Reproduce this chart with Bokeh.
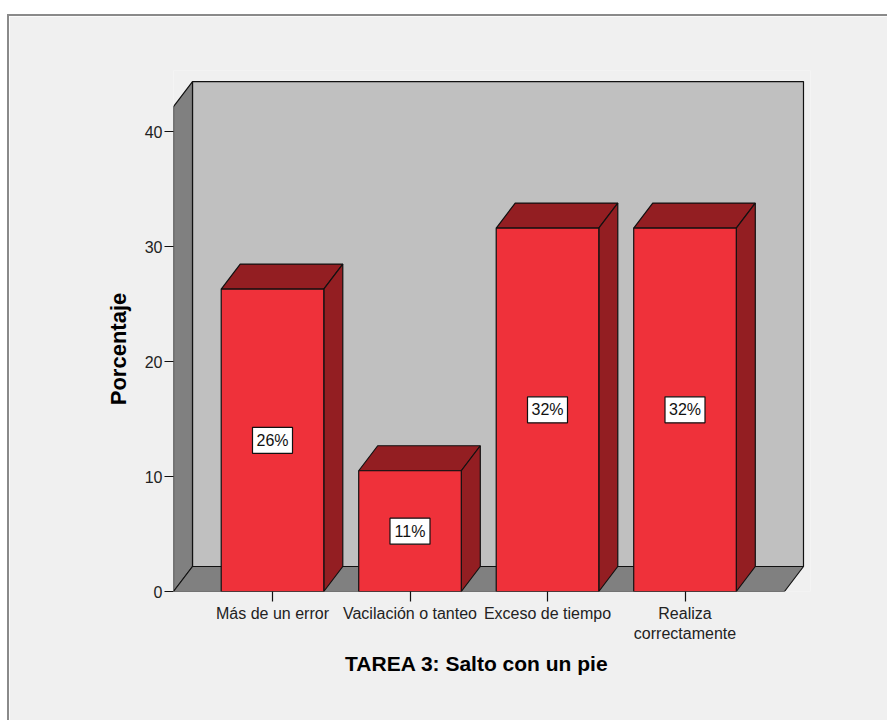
from bokeh.plotting import figure
from bokeh.models import Range1d, FixedTicker, Title, ColumnDataSource
from bokeh.core.properties import value
from bokeh.embed import file_html
from bokeh.resources import INLINE

# ---- data ----
categories = ["Más de un error", "Vacilación o tanteo", "Exceso de tiempo", "Realiza\ncorrectamente"]
percentages = [26.3, 10.5, 31.6, 31.6]
bar_labels = ["26%", "11%", "32%", "32%"]
y_ticks = [0, 10, 20, 30, 40]
x_title = "TAREA 3: Salto con un pie"
y_title = "Porcentaje"

# ---- layout constants (pixels) ----
OX, OY = 9, 16                 # page offset of the canvas
W, H = 889 - OX, 720 - OY + 6
F_LEFT, F_TOP, F_RIGHT, F_BOTTOM = 173 - OX, 70 - OY, 810 - OX, 591 - OY
PX_X = 137.5                   # pixels per category step
PX_Y = 11.5                    # pixels per percent
X0 = -0.72
X_END = X0 + (F_RIGHT - F_LEFT) / PX_X
Y_END = (F_BOTTOM - F_TOP) / PX_Y
DX = 19 / PX_X                 # depth offset
DY = 25 / PX_Y
PLANE_R = 3.7236
PLANE_T = 42.17
BAR_W = 0.746

FONT = "Liberation Sans"
FRONT = "#ef313a"
DARK = "#931e22"
WALL = "#c0c0c0"
SIDE = "#808080"
EDGE = "#111111"

p = figure(width=W, height=H, x_range=Range1d(X0, X_END), y_range=Range1d(0, Y_END),
           output_backend="svg", toolbar_location=None,
           min_border_left=F_LEFT, min_border_right=W - F_RIGHT,
           min_border_top=F_TOP, min_border_bottom=H - F_BOTTOM)
p.margin = (14, 0, 0, 7)
p.styles = {"border-top": "2px solid #8a8a8a", "border-left": "2px solid #8a8a8a"}
p.background_fill_color = "#f0f0f0"
p.border_fill_color = "#f0f0f0"
p.outline_line_color = None
p.grid.visible = False

# walls
p.patch([X0 + DX, PLANE_R + DX, PLANE_R + DX, X0 + DX], [DY, DY, PLANE_T + DY, PLANE_T + DY],
        fill_color=WALL, line_color=EDGE, line_width=1.2)
p.patch([X0, X0 + DX, X0 + DX, X0], [0, DY, PLANE_T + DY, PLANE_T],
        fill_color=SIDE, line_color=EDGE, line_width=1.2)
p.patch([X0, PLANE_R, PLANE_R + DX, X0 + DX], [0, 0, DY, DY],
        fill_color=SIDE, line_color=EDGE, line_width=1.2)

# bars
xs = list(range(len(categories)))
for i, v in zip(xs, percentages):
    l, r = i - BAR_W / 2, i + BAR_W / 2
    p.patch([l, r, r + DX, l + DX], [v, v, v + DY, v + DY], fill_color=DARK, line_color=EDGE, line_width=1.2)
    p.patch([r, r + DX, r + DX, r], [0, DY, v + DY, v], fill_color=DARK, line_color=EDGE, line_width=1.2)
    p.patch([l, r, r, l], [0, 0, v, v], fill_color=FRONT, line_color=EDGE, line_width=1.2)

src = ColumnDataSource(dict(x=xs, y=[v / 2 for v in percentages], t=bar_labels))
p.rect(x="x", y="y", width=40, height=26, width_units="screen", height_units="screen",
       source=src, fill_color="white", line_color=EDGE, line_width=1.2)
p.text(x="x", y="y", text="t", source=src, text_align="center", text_baseline="middle",
       text_font=value(FONT), text_font_size="16px", text_color="#111111")

# axes
p.yaxis.ticker = FixedTicker(ticks=y_ticks)
p.xaxis.ticker = FixedTicker(ticks=xs)
p.xaxis.major_label_overrides = {i: c for i, c in zip(xs, categories)}
for ax in (p.xaxis, p.yaxis):
    ax.axis_line_color = None
    ax.major_tick_in = 0
    ax.minor_tick_line_color = None
    ax.major_tick_line_color = EDGE
    ax.major_tick_line_width = 1.2
    ax.major_label_text_font = FONT
    ax.major_label_text_font_size = "16px"
    ax.major_label_text_color = "#222222"
p.yaxis.major_tick_out = 9
p.yaxis.major_label_standoff = 2
p.xaxis.major_tick_out = 10
p.xaxis.major_label_standoff = 3

TITLE_PX = 21
YT_PX = 22
xt = Title(text=x_title, align="left", offset=477 - 173 - 12.613 * TITLE_PX / 2,
           text_font=FONT, text_font_style="bold", text_font_size=f"{TITLE_PX}px",
           text_color="#000000", standoff=10)
p.add_layout(xt, "below")
yt = Title(text=y_title, align="left", offset=591 - 348.5 - 5.113 * YT_PX / 2,
           text_font=FONT, text_font_style="bold", text_font_size=f"{YT_PX}px",
           text_color="#000000", standoff=22)
p.add_layout(yt, "left")

open("out.html", "w").write(file_html(p, INLINE))
